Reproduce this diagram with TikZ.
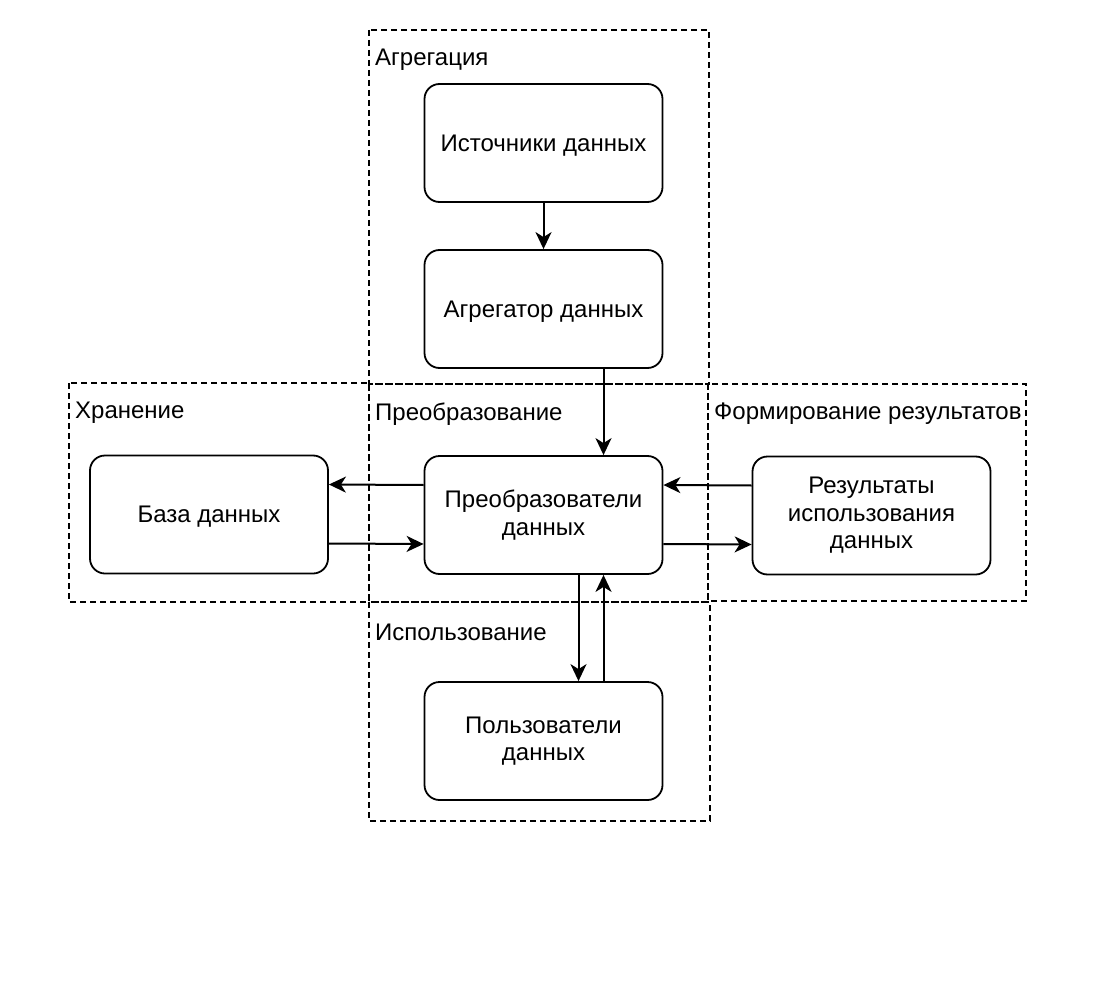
\documentclass[tikz,border=0pt]{standalone}
\usepackage{fontspec}
\setmainfont{Liberation Sans}
\usepackage{tikz}
\usetikzlibrary{arrows.meta}

\begin{document}
\begin{tikzpicture}[x=1pt,y=-1pt,
    block/.style={draw, line width=1.8pt, rounded corners=15pt,
      minimum width=238pt, minimum height=118pt, align=center,
      font=\fontsize{24}{27.5}\selectfont},
    oneline/.style={block, text depth=0pt},
    group/.style={draw, line width=1.6pt, dash pattern=on 6pt off 4pt},
    grouplabel/.style={anchor=west, inner sep=0pt,
      font=\fontsize{24}{27.5}\selectfont},
    arr/.style={line width=2pt, -{Stealth[length=17pt,width=16pt,inset=5pt]}}]
  \useasboundingbox (0,0) rectangle (1115,984);

  % groups
  \foreach \n/\xa/\ya/\xb/\yb/\t in {
    aggr/369/30/709/384/Агрегация,
    store/69/383/369/602/Хранение,
    trans/369/384/708/602/Преобразование,
    form/708/384/1026/601/Формирование результатов,
    use/369/602/710/821/Использование
  } {
    \draw[group] (\xa,\ya) rectangle (\xb,\yb);
    \node[grouplabel] (\n) at ({\xa+6},{\ya+30}) {\t};
  }

  % blocks
  \foreach \n/\x/\y/\k/\t in {
    % top
    src/543.5/143/oneline/Источники данных,
    agg/543.5/309/oneline/Агрегатор данных,
    % middle
    db/209/514.5/oneline/База данных,
    conv/543.5/515/block/Преобразователи\\данных,
    res/871.5/515.5/block/Результаты\\использования\\данных,
    % bottom
    usr/543.5/741/block/Пользователи\\данных
  } { \node[\k] (\n) at (\x,\y) {\t}; }

  % connections
  \foreach \a/\b/\s in {
    src/agg/0,
    agg/conv/60,
    conv/usr/35%
  } { \draw[arr] ([xshift=\s]\a.south) -- ([xshift=\s]\b.north); }
  \draw[arr] ([xshift=60]usr.north) -- ([xshift=60]conv.south);

  \foreach \a/\b/\s in {
    conv/db/30,
    res/conv/30%
  } { \draw[arr] ([yshift=\s]\a.west) -- ([yshift=\s]\b.east); }
  \foreach \a/\b/\s in {
    db/conv/-29,
    conv/res/-29%
  } { \draw[arr] ([yshift=\s]\a.east) -- ([yshift=\s]\b.west); }
\end{tikzpicture}
\end{document}
